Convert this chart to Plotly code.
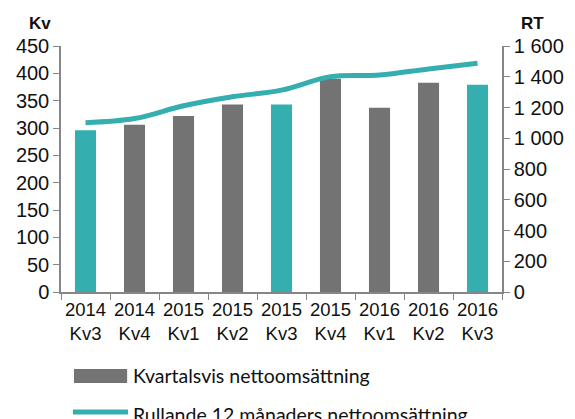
import plotly.graph_objects as go

# data
years = ["2014", "2014", "2015", "2015", "2015", "2015", "2016", "2016", "2016"]
quarters = ["Kv3", "Kv4", "Kv1", "Kv2", "Kv3", "Kv4", "Kv1", "Kv2", "Kv3"]
kvartal = [296, 306, 322, 343, 343, 390, 337, 383, 379]
rullande = [1101, 1128, 1211, 1270, 1313, 1401, 1411, 1451, 1488]

categories = [y + "<br>" + q for y, q in zip(years, quarters)]

TEAL = "#34AEAE"
GREY = "#737373"
AXIS = "#868686"
bar_colors = [TEAL if q == "Kv3" else GREY for q in quarters]

fig = go.Figure()

fig.add_trace(go.Bar(
    x=categories, y=kvartal, name="Kvartalsvis nettoomsättning",
    marker=dict(color=bar_colors, line=dict(width=0)),
    showlegend=False,
))

fig.add_trace(go.Scatter(
    x=categories, y=rullande, name="Rullande 12 månaders nettoomsättning",
    mode="lines", yaxis="y2",
    line=dict(color=TEAL, width=5, shape="spline", smoothing=1),
    showlegend=False,
))

x_font = dict(family="Arial", size=18.5, color="#111111")
y_font = dict(family="Arial", size=20, color="#111111")

# the page body adds an 8px offset, so the figure is sized a bit smaller
fig.update_layout(
    width=567, height=411,
    margin=dict(l=53, r=73, t=38, b=127),
    paper_bgcolor="white", plot_bgcolor="white",
    separators=", ",
    bargap=0.57,
    xaxis=dict(
        type="category", showline=True, linecolor=AXIS, linewidth=1.5,
        ticks="outside", tickson="boundaries", ticklen=6, tickcolor=AXIS,
        tickfont=x_font, tickangle=0, showgrid=False, automargin=False,
    ),
    yaxis=dict(
        range=[0, 450], dtick=50, showline=True, linecolor=AXIS, linewidth=1.5,
        ticks="outside", ticklen=6, tickcolor=AXIS, tickfont=y_font,
        showgrid=False, zeroline=False, automargin=False,
    ),
    yaxis2=dict(
        range=[0, 1600], dtick=200, overlaying="y", side="right",
        showline=True, linecolor=AXIS, linewidth=1.5,
        ticks="outside", ticklen=6, tickcolor=AXIS, tickfont=y_font,
        tickformat=",d", showgrid=False, zeroline=False, automargin=False,
    ),
)

# axis unit labels
unit_font = dict(family="Arial", size=17, color="#111111")
fig.add_annotation(text="<b>Kv</b>", xref="paper", yref="paper", x=-0.077, y=1.093,
                   yanchor="middle", showarrow=False, font=unit_font)
fig.add_annotation(text="<b>RT</b>", xref="paper", yref="paper", x=1.10, y=1.093,
                   yanchor="middle", showarrow=False, font=unit_font)

# legend drawn below the plot
legend_font = dict(family="Lato", size=19.5, color="#111111")
fig.add_shape(type="rect", xref="paper", yref="paper", x0=0.0295, x1=0.150, y0=-0.370, y1=-0.313,
              fillcolor=GREY, line=dict(width=0))
fig.add_annotation(text="Kvartalsvis nettoomsättning", xref="paper", yref="paper",
                   x=0.158, y=-0.341, xanchor="left", yanchor="middle", showarrow=False, font=legend_font)
fig.add_shape(type="line", xref="paper", yref="paper", x0=0.027, x1=0.152, y0=-0.488, y1=-0.488,
              line=dict(color=TEAL, width=5))
fig.add_annotation(text="Rullande 12 månaders nettoomsättning", xref="paper", yref="paper",
                   x=0.158, y=-0.496, xanchor="left", yanchor="middle", showarrow=False, font=legend_font)

fig.write_html("out.html")
